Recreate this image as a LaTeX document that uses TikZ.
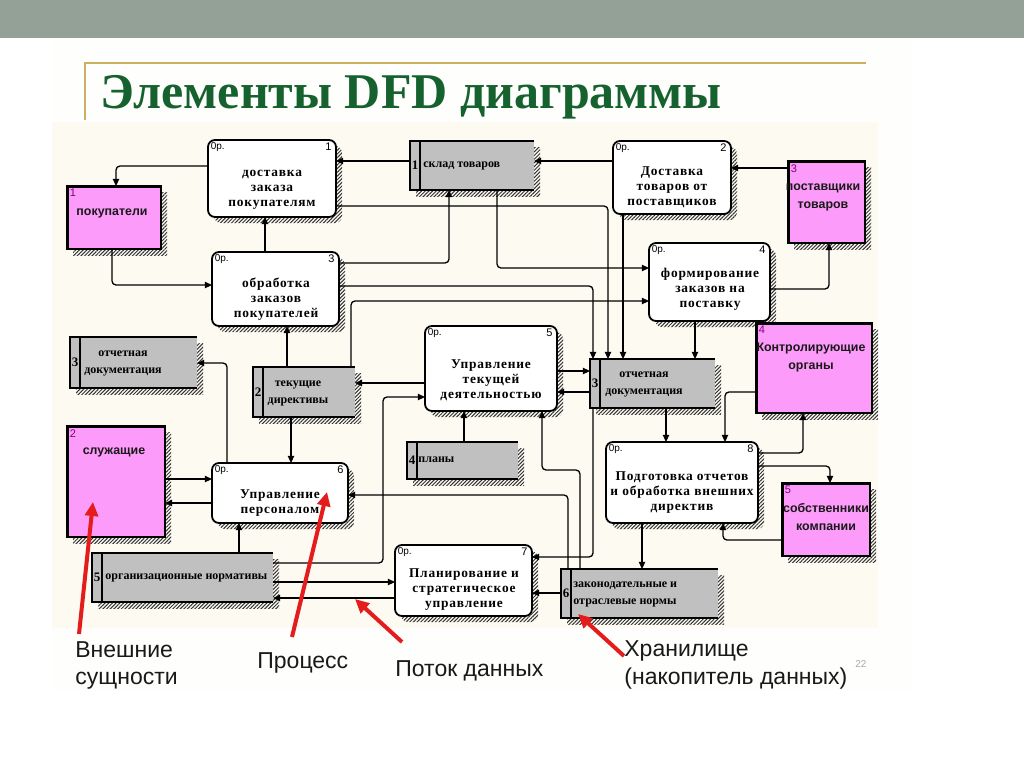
\documentclass[tikz,border=0pt]{standalone}
\usepackage{fontspec}
\setmainfont{Liberation Serif}
\newfontfamily\procfont{Liberation Serif}[LetterSpace=6]
\newfontfamily\sansf{Liberation Sans}
\usetikzlibrary{arrows.meta,patterns.meta}
\definecolor{bandc}{RGB}{148,161,151}
\definecolor{goldc}{RGB}{205,175,95}
\definecolor{titlec}{RGB}{22,98,46}
\definecolor{creamc}{RGB}{252,250,241}
\definecolor{cardc}{RGB}{254,254,252}
\definecolor{pinkc}{RGB}{252,155,250}
\definecolor{storec}{RGB}{192,192,192}
\definecolor{entnum}{RGB}{128,0,128}
\definecolor{redc}{RGB}{228,28,28}
\definecolor{pgnum}{RGB}{170,170,170}
\tikzset{
  shadowpat/.style={pattern={Lines[angle=45,distance=1.3pt,line width=0.5pt]},pattern color=black!80},
  procbox/.style={draw=black,line width=0.9pt,rounded corners=3.5pt,fill=white,inner sep=0pt,outer sep=0pt},
  storebox/.style={fill=storec,inner sep=0pt,outer sep=0pt},
  storeline/.style={draw=black,line width=0.8pt},
  entbox/.style={fill=pinkc,draw=black,line width=0.6pt,inner sep=0pt,outer sep=0pt},
  entthick/.style={draw=black,line width=1.5pt},
  oplbl/.style={font=\sansf\fontsize{5}{6}\selectfont,inner sep=0pt},
  pnumlbl/.style={font=\sansf\fontsize{5.5}{6}\selectfont,inner sep=0pt},
  snumlbl/.style={font=\bfseries\fontsize{6.5}{7}\selectfont,inner sep=0pt},
  enumlbl/.style={font=\sansf\fontsize{5.5}{6}\selectfont,text=entnum,inner sep=0pt},
  ptext/.style={font=\procfont\bfseries\fontsize{6.7}{7.5}\selectfont,align=center,inner sep=0pt},
  stext/.style={font=\bfseries\fontsize{6}{8.5}\selectfont,inner sep=0pt},
  etext/.style={font=\sansf\bfseries\fontsize{6.2}{9}\selectfont,align=center,inner sep=0pt,text=black!90},
  flow/.style={line width=0.65pt,rounded corners=2pt,-{Triangle[length=3.6pt,width=3.2pt]}},
  lbl/.style={font=\sansf\fontsize{11.5}{13}\selectfont,text=black!90,inner sep=0pt},
  redarrow/.style={draw=redc,line width=2pt,-{Triangle[length=7pt,width=6.5pt]}}
}
\newcommand\mkproc[6]{%
  \fill[shadowpat,rounded corners=3.5pt] ({#2+6},{#3+6}) rectangle ({#4+6},{#5+6});
  \node[procbox,minimum width={(#4-#2)*0.5pt},minimum height={(#5-#3)*0.5pt}] (#1) at ({(#2+#4)/2},{(#3+#5)/2}) {};
  \node[oplbl,anchor=north west] (#1-op) at ([shift={(1.2pt,-1.2pt)}]#1.north west) {0р.};
  \node[pnumlbl,anchor=north east] (#1-n) at ([shift={(-2pt,-1.2pt)}]#1.north east) {#6};
}
\newcommand\mkstore[6]{%
  \fill[shadowpat] ({#2+6},{#3+6}) rectangle ({#4+6},{#5+6});
  \node[storebox,minimum width={(#4-#2)*0.5pt},minimum height={(#5-#3)*0.5pt}] (#1) at ({(#2+#4)/2},{(#3+#5)/2}) {};
  \draw[storeline] (#1.north east) -- (#1.north west) -- (#1.south west) -- (#1.south east);
  \draw[storeline] ([xshift=5pt]#1.north west) -- ([xshift=5pt]#1.south west);
  \node[snumlbl] (#1-n) at ([xshift=2.6pt]#1.west) {#6};
}
\newcommand\mkent[6]{%
  \fill[shadowpat] ({#2+6},{#3+6}) rectangle ({#4+6},{#5+6});
  \node[entbox,minimum width={(#4-#2)*0.5pt},minimum height={(#5-#3)*0.5pt}] (#1) at ({(#2+#4)/2},{(#3+#5)/2}) {};
  \draw[entthick] (#1.south west) -- (#1.north west) -- (#1.north east);
  \node[enumlbl,anchor=north west] (#1-n) at ([shift={(1.2pt,-1.5pt)}]#1.north west) {#6};
}
\begin{document}
\begin{tikzpicture}[x=0.5pt,y=-0.5pt]
\useasboundingbox (0,0) rectangle (1024,767);
% slide background
\fill[white] (0,0) rectangle (1024,767);
\fill[cardc] (52,40) rectangle (912,690);
\fill[bandc] (0,0) rectangle (1024,38);
\draw[goldc,line width=1pt] (85,120) -- (85,63) -- (866,63);
\node[anchor=base west,inner sep=0pt,font=\bfseries\fontsize{25}{30}\selectfont,text=titlec] (title) at (100,108) {Элементы DFD диаграммы};
\fill[creamc] (52,122) rectangle (878,628);
% processes
\mkproc{p1}{208}{140}{336}{217}{1}
\mkproc{p2}{613}{141}{731}{214}{2}
\mkproc{p3}{212}{252}{339}{326}{3}
\mkproc{p4}{649}{243}{770}{321}{4}
\mkproc{p5}{425}{326}{557}{411}{5}
\mkproc{p6}{212}{463}{348}{523}{6}
\mkproc{p7}{395}{545}{532}{616}{7}
\mkproc{p8}{606}{442}{758}{523}{8}
\node[ptext] (p1-t) at (272,190) {доставка\\заказа\\покупателям};
\node[ptext] (p2-t) at (672,187) {Доставка\\товаров от\\поставщиков};
\node[ptext] (p3-t) at (276,299) {обработка\\заказов\\покупателей};
\node[ptext] (p4-t) at (710,289) {формирование\\заказов на\\поставку};
\node[ptext] (p5-t) at (491,380) {Управление\\текущей\\деятельностью};
\node[ptext] (p6-t) at (280,503.5) {Управление\\персоналом};
\node[ptext] (p7-t) at (464,590) {Планирование и\\стратегическое\\управление};
\node[ptext] (p8-t) at (682,493) {Подготовка отчетов\\и обработка внешних\\директив};
% stores
\mkstore{s1}{410}{141}{534}{190}{1}
\mkstore{s3a}{70}{337}{197}{388}{3}
\mkstore{s2}{253}{367}{355}{417}{2}
\mkstore{s3b}{590}{359}{715}{408}{3}
\mkstore{s4}{407}{442}{518}{479}{4}
\mkstore{s5}{92}{553}{273}{602}{5}
\mkstore{s6}{561}{569}{718}{618}{6}
\node[stext,anchor=west] (s1-t) at (423,166) {склад товаров};
\node[stext,align=center] (s3a-t) at (123,363.5) {отчетная\\документация};
\node[stext,align=center] (s2-t) at (298,393.5) {текущие\\директивы};
\node[stext,align=center] (s3b-t) at (644,384.5) {отчетная\\документация};
\node[stext,anchor=west] (s4-t) at (418,460) {планы};
\node[stext,anchor=west] (s5-t) at (105,578) {организационные нормативы};
\node[stext,anchor=west,align=left] (s6-t) at (573,594) {законодательные и\\отраслевые нормы};
% external entities
\mkent{e1}{67}{186}{161}{249}{1}
\mkent{e2}{67}{426}{165}{537}{2}
\mkent{e3}{788}{161}{865}{243}{3}
\mkent{e4}{756}{323}{872}{413}{4}
\mkent{e5}{782}{483}{870}{556}{5}
\node[etext] (e1-t) at (112,213) {покупатели};
\node[etext] (e2-t) at (114,452) {служащие};
\node[etext] (e3-t) at (823,197) {поставщики\\товаров};
\node[etext] (e4-t) at (811,358) {Контролирующие\\органы};
\node[etext] (e5-t) at (826,517) {собственники\\компании};
% data flows
\draw[flow] (p1.west |- 0,166) -| (116,0 |- e1.north);
\draw[flow] (112,0 |- e1.south) |- (p3.west |- 0,285);
\draw[flow] (265,0 |- p3.north) -- (265,0 |- p1.south);
\draw[flow] (s1.west |- 0,161) -- (p1.east |- 0,161);
\draw[flow] (p1.east |- 0,206) -| (608,0 |- s3b.north);
\draw[flow] (p3.east |- 0,263) -| (449,0 |- s1.south);
\draw[flow] (p3.east |- 0,286) -| (593,0 |- s3b.north);
\draw[flow] (351,0 |- s2.north) |- (p4.west |- 0,301);
\draw[flow] (497,0 |- s1.south) |- (p4.west |- 0,268);
\draw[flow] (p2.west |- 0,161) -- (s1.east |- 0,161);
\draw[flow] (e3.west |- 0,168) -- (p2.east |- 0,168);
\draw[flow] (623,0 |- p2.south) -- (623,0 |- s3b.north);
\draw[flow] (p4.east |- 0,289) -| (829,0 |- e3.south);
\draw[flow] (695,0 |- p4.south) -- (695,0 |- s3b.north);
\draw[flow] (p5.east |- 0,371) -- (s3b.west |- 0,371);
\draw[flow] (s3b.west |- 0,392) -- (p5.east |- 0,392);
\draw[flow] (p5.west |- 0,383) -- (s2.east |- 0,383);
\draw[flow] (s5.east |- 0,563) -| (383,397) -- (p5.west |- 0,397);
\draw[flow] (291,0 |- s2.south) -- (291,0 |- p6.north);
\draw[flow] (287,0 |- s2.north) -- (287,0 |- p3.south);
\draw[flow] (227,0 |- p6.north) |- (s3a.east |- 0,363);
\draw[flow] (e2.east |- 0,479) -- (p6.west |- 0,479);
\draw[flow] (p6.west |- 0,503) -- (e2.east |- 0,503);
\draw[flow] (568,0 |- s6.north) |- (p6.east |- 0,495);
\draw[flow] (580,0 |- s6.north) |- (542,470) -- (542,0 |- p5.south);
\draw[flow] (464,0 |- s4.north) -- (464,0 |- p5.south);
\draw[flow] (593,0 |- s3b.south) |- (p7.east |- 0,557);
\draw[flow] (s6.west |- 0,593) -- (p7.east |- 0,593);
\draw[flow] (642,0 |- p8.south) -- (642,0 |- s6.north);
\draw[flow] (e5.west |- 0,540) -| (723,0 |- p8.south);
\draw[flow] (666,0 |- s3b.south) -- (666,0 |- p8.north);
\draw[flow] (e4.west |- 0,392) -| (725,0 |- p8.north);
\draw[flow] (p8.east |- 0,453) -| (803,0 |- e4.south);
\draw[flow] (p8.east |- 0,466) -| (830,0 |- e5.north);
\draw[flow] (239,0 |- s5.north) -- (239,0 |- p6.south);
\draw[flow] (s5.east |- 0,582) -- (p7.west |- 0,582);
\draw[flow] (p7.west |- 0,598) -- (s5.east |- 0,598);
% legend labels
\node[lbl,anchor=base west] (l1a) at (75,657) {Внешние};
\node[lbl,anchor=base west] (l1b) at (75,684) {сущности};
\node[lbl,anchor=base west] (l2) at (257,668) {Процесс};
\node[lbl,anchor=base west] (l3) at (395,676) {Поток данных};
\node[lbl,anchor=base west] (l4a) at (624,656) {Хранилище};
\node[lbl,anchor=base west] (l4b) at (624,684) {(накопитель данных)};
\node[anchor=north west,inner sep=0pt,font=\sansf\fontsize{5}{6}\selectfont,text=pgnum] (pg) at (855,660) {22};
% red pointers
\coordinate (r1s) at (79,634); \coordinate (r1e) at (93,502);
\coordinate (r2s) at (292,637); \coordinate (r2e) at (327,492);
\coordinate (r3s) at (402,642); \coordinate (r3e) at (355,599);
\coordinate (r4s) at (624,656); \coordinate (r4e) at (578,614);
\draw[redarrow] (r1s) -- (r1e);
\draw[redarrow] (r2s) -- (r2e);
\draw[redarrow] (r3s) -- (r3e);
\draw[redarrow] (r4s) -- (r4e);
\end{tikzpicture}
\end{document}
